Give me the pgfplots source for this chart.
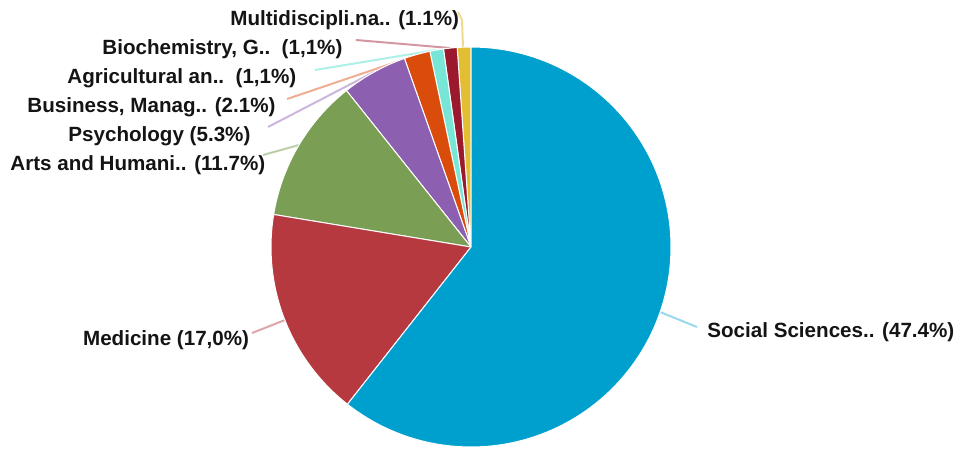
\documentclass[border=0pt]{standalone}
\usepackage{pgfplots}
\pgfplotsset{compat=1.18}
\usepackage{fontspec}
\setmainfont{Liberation Sans}
\definecolor{csoc}{RGB}{0,160,206}
\definecolor{cmed}{RGB}{181,57,63}
\definecolor{carts}{RGB}{122,158,84}
\definecolor{cpsy}{RGB}{141,95,176}
\definecolor{cbus}{RGB}{218,76,12}
\definecolor{cagr}{RGB}{120,230,215}
\definecolor{cbio}{RGB}{155,25,45}
\definecolor{cmul}{RGB}{225,190,50}
\definecolor{ctxt}{RGB}{20,20,20}
\tikzset{lbl/.style={anchor=base west, inner sep=0pt, text=ctxt,
    font=\fontsize{10.3}{12}\selectfont\bfseries}}
% slice shares (percent of the full circle, as drawn)
\newcommand\vMul{1.1}
\newcommand\vBio{1.1}
\newcommand\vAgr{1.1}
\newcommand\vBus{2.1}
\newcommand\vPsy{5.3}
\newcommand\vArt{11.7}
\newcommand\vMed{17.0}
\newcommand\vSoc{60.6}
\begin{document}
\begin{tikzpicture}
\pgfmathsetmacro\bA{90}
\pgfmathsetmacro\bB{\bA+3.6*\vMul}
\pgfmathsetmacro\bC{\bB+3.6*\vBio}
\pgfmathsetmacro\bD{\bC+3.6*\vAgr}
\pgfmathsetmacro\bE{\bD+3.6*\vBus}
\pgfmathsetmacro\bF{\bE+3.6*\vPsy}
\pgfmathsetmacro\bG{\bF+3.6*\vArt}
\pgfmathsetmacro\bH{\bG+3.6*\vMed}
\pgfmathsetmacro\bI{\bH+3.6*\vSoc}
\begin{axis}[
  scale only axis, width=481.5pt, height=226pt,
  xmin=0, xmax=963, ymin=-452, ymax=0,
  xtick=\empty, ytick=\empty, axis line style={draw=none},
  clip=false,
]
% leader lines
\addplot[no marks, line width=1pt, cmul!55] coordinates {(458,-12) (462,-20) (463,-47)};
\addplot[no marks, line width=1pt, cbio!45] coordinates {(356,-40) (450,-48)};
\addplot[no marks, line width=1pt, cagr!60] coordinates {(315,-70) (436,-50)};
\addplot[no marks, line width=1pt, cbus!45] coordinates {(287,-99) (417,-55)};
\addplot[no marks, line width=1pt, cpsy!45] coordinates {(268,-127) (374,-72)};
\addplot[no marks, line width=1pt, carts!50] coordinates {(263,-155) (299,-145)};
\addplot[no marks, line width=1pt, cmed!45] coordinates {(252,-333) (285,-320)};
\addplot[no marks, line width=1pt, csoc!40] coordinates {(697,-327) (660,-312)};
% slices
\addplot[fill=cmul, draw=white, line width=0.5pt, domain=\bA:\bB, samples=8] ({471+200*cos(x)},{-247+200*sin(x)}) -- (axis cs:471,-247) -- cycle;
\addplot[fill=cbio, draw=white, line width=0.5pt, domain=\bB:\bC, samples=8] ({471+200*cos(x)},{-247+200*sin(x)}) -- (axis cs:471,-247) -- cycle;
\addplot[fill=cagr, draw=white, line width=0.5pt, domain=\bC:\bD, samples=8] ({471+200*cos(x)},{-247+200*sin(x)}) -- (axis cs:471,-247) -- cycle;
\addplot[fill=cbus, draw=white, line width=0.5pt, domain=\bD:\bE, samples=10] ({471+200*cos(x)},{-247+200*sin(x)}) -- (axis cs:471,-247) -- cycle;
\addplot[fill=cpsy, draw=white, line width=0.5pt, domain=\bE:\bF, samples=16] ({471+200*cos(x)},{-247+200*sin(x)}) -- (axis cs:471,-247) -- cycle;
\addplot[fill=carts, draw=white, line width=0.5pt, domain=\bF:\bG, samples=30] ({471+200*cos(x)},{-247+200*sin(x)}) -- (axis cs:471,-247) -- cycle;
\addplot[fill=cmed, draw=white, line width=0.5pt, domain=\bG:\bH, samples=40] ({471+200*cos(x)},{-247+200*sin(x)}) -- (axis cs:471,-247) -- cycle;
\addplot[fill=csoc, draw=white, line width=0.5pt, domain=\bH:\bI, samples=120] ({471+200*cos(x)},{-247+200*sin(x)}) -- (axis cs:471,-247) -- cycle;
% labels
\node[lbl] at (axis cs:230,-25) {Multidiscipli.na.. (1.1\%)};
\node[lbl] at (axis cs:102,-54) {Biochemistry, G..\ \ (1,1\%)};
\node[lbl] at (axis cs:67,-83) {Agricultural an..\ \ (1,1\%)};
\node[lbl] at (axis cs:27,-112) {Business, Manag.. (2.1\%)};
\node[lbl] at (axis cs:68,-141.5) {Psychology (5.3\%)};
\node[lbl] at (axis cs:10,-170.5) {Arts and Humani.. (11.7\%)};
\node[lbl] at (axis cs:82.7,-345.7) {Medicine (17,0\%)};
\node[lbl] at (axis cs:707,-337.5) {Social Sciences.. (47.4\%)};
\end{axis}
\end{tikzpicture}
\end{document}
